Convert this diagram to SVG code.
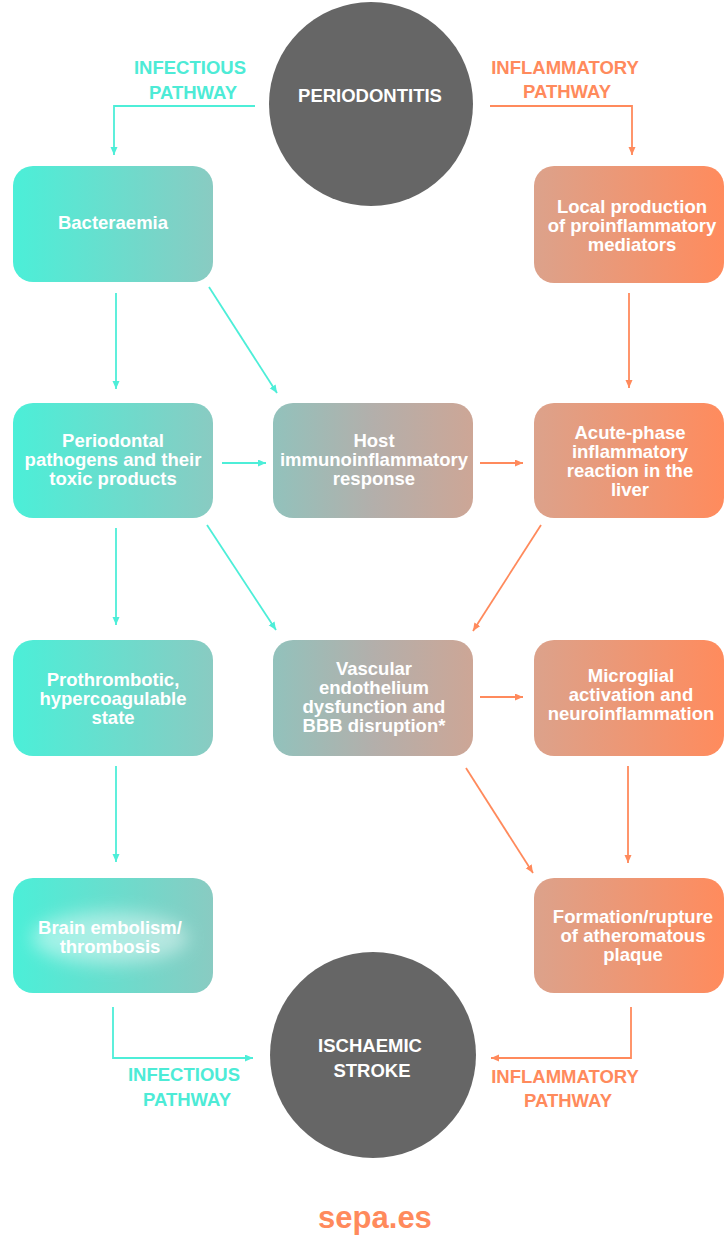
<svg xmlns="http://www.w3.org/2000/svg" width="725" height="1237" viewBox="0 0 725 1237">
<style>
.t{font-family:"Liberation Sans",Arial,sans-serif;font-weight:bold;font-size:18.5px;fill:#ffffff;text-anchor:middle}
.lt{font-family:"Liberation Sans",Arial,sans-serif;font-weight:bold;font-size:18.5px;fill:#4DEBD6;text-anchor:middle}
.lo{font-family:"Liberation Sans",Arial,sans-serif;font-weight:bold;font-size:18.5px;fill:#FF8A5C;text-anchor:middle}
.ct{fill:none;stroke:#4DEED8;stroke-width:1.8;marker-end:url(#at)}
.co{fill:none;stroke:#FF8A5C;stroke-width:1.8;marker-end:url(#ao)}
.circ{fill:#666666}
</style>
<defs>
<linearGradient id="gT" x1="0" y1="0" x2="1" y2="0">
<stop offset="0" stop-color="#4BEFD8"/><stop offset="1" stop-color="#89CBC2"/>
</linearGradient>
<linearGradient id="gM" x1="0" y1="0" x2="1" y2="0">
<stop offset="0" stop-color="#92C2BC"/><stop offset="0.5" stop-color="#B3AFAB"/><stop offset="1" stop-color="#CDA696"/>
</linearGradient>
<linearGradient id="gO" x1="0" y1="0" x2="1" y2="0">
<stop offset="0" stop-color="#DCA28B"/><stop offset="1" stop-color="#FF8B5D"/>
</linearGradient>
<filter id="blur" x="-50%" y="-50%" width="200%" height="200%"><feGaussianBlur stdDeviation="9"/></filter>
<marker id="at" markerUnits="userSpaceOnUse" markerWidth="9" markerHeight="8" refX="8" refY="3.5" orient="auto"><path d="M0,0 L8,3.5 L0,7 z" fill="#4DEED8"/></marker>
<marker id="ao" markerUnits="userSpaceOnUse" markerWidth="9" markerHeight="8" refX="8" refY="3.5" orient="auto"><path d="M0,0 L8,3.5 L0,7 z" fill="#FF8A5C"/></marker>
</defs>
<rect width="725" height="1237" fill="#ffffff"/>

<g id="connectors">
<path class="ct" d="M255,106 H114 V155"/>
<path class="co" d="M490,106 H632 V155"/>
<path class="ct" d="M116,293 V389"/>
<path class="ct" d="M209,287 L277,393"/>
<path class="co" d="M629,293 V388"/>
<path class="ct" d="M222,463 H266"/>
<path class="co" d="M480,463 H523"/>
<path class="ct" d="M116,528 V625"/>
<path class="ct" d="M207,525 L276,630"/>
<path class="co" d="M541,525 L473,631"/>
<path class="ct" d="M116,766 V862"/>
<path class="co" d="M480,697 H523"/>
<path class="co" d="M466,768 L533,873"/>
<path class="co" d="M628,766 V863"/>
<path class="ct" d="M113,1007 V1058 H253"/>
<path class="co" d="M631,1007 V1058 H491"/>
</g>

<g id="periodontitis">
<circle class="circ" cx="371" cy="104" r="102"/>
<text class="t" x="370" y="102">PERIODONTITIS</text>
</g>

<g id="label-infectious-top">
<text class="lt" x="190" y="74">INFECTIOUS</text>
<text class="lt" x="193" y="99">PATHWAY</text>
</g>
<g id="label-inflammatory-top">
<text class="lo" x="565" y="74">INFLAMMATORY</text>
<text class="lo" x="567" y="98">PATHWAY</text>
</g>

<g id="bacteraemia">
<rect x="13" y="166" width="200" height="116" rx="20" fill="url(#gT)"/>
<text class="t" x="113" y="229">Bacteraemia</text>
</g>

<g id="local-production">
<rect x="534" y="166" width="190" height="117" rx="20" fill="url(#gO)"/>
<text class="t" x="632" y="213">Local production</text>
<text class="t" x="632" y="232">of proinflammatory</text>
<text class="t" x="632" y="251">mediators</text>
</g>

<g id="periodontal-pathogens">
<rect x="13" y="403" width="200" height="115" rx="20" fill="url(#gT)"/>
<text class="t" x="113" y="447">Periodontal</text>
<text class="t" x="113" y="466">pathogens and their</text>
<text class="t" x="113" y="485">toxic products</text>
</g>

<g id="host-response">
<rect x="273" y="403" width="200" height="115" rx="20" fill="url(#gM)"/>
<text class="t" x="374" y="447">Host</text>
<text class="t" x="374" y="466">immunoinflammatory</text>
<text class="t" x="374" y="485">response</text>
</g>

<g id="acute-phase">
<rect x="534" y="403" width="190" height="115" rx="20" fill="url(#gO)"/>
<text class="t" x="630" y="439">Acute-phase</text>
<text class="t" x="630" y="458">inflammatory</text>
<text class="t" x="630" y="477">reaction in the</text>
<text class="t" x="630" y="496">liver</text>
</g>

<g id="prothrombotic">
<rect x="13" y="640" width="200" height="116" rx="20" fill="url(#gT)"/>
<text class="t" x="113" y="686">Prothrombotic,</text>
<text class="t" x="113" y="705">hypercoagulable</text>
<text class="t" x="113" y="724">state</text>
</g>

<g id="vascular">
<rect x="273" y="640" width="200" height="116" rx="20" fill="url(#gM)"/>
<text class="t" x="374" y="675">Vascular</text>
<text class="t" x="374" y="694">endothelium</text>
<text class="t" x="374" y="713">dysfunction and</text>
<text class="t" x="374" y="732">BBB disruption*</text>
</g>

<g id="microglial">
<rect x="534" y="640" width="190" height="116" rx="20" fill="url(#gO)"/>
<text class="t" x="631" y="682">Microglial</text>
<text class="t" x="631" y="701">activation and</text>
<text class="t" x="631" y="720">neuroinflammation</text>
</g>

<g id="brain-embolism">
<rect x="13" y="878" width="200" height="115" rx="20" fill="url(#gT)"/>
<ellipse cx="110" cy="938" rx="78" ry="26" fill="#ffffff" opacity="0.45" filter="url(#blur)"/>
<text class="t" x="110" y="934">Brain embolism/</text>
<text class="t" x="110" y="953">thrombosis</text>
</g>

<g id="formation-rupture">
<rect x="534" y="878" width="190" height="115" rx="20" fill="url(#gO)"/>
<text class="t" x="633" y="923">Formation/rupture</text>
<text class="t" x="633" y="942">of atheromatous</text>
<text class="t" x="633" y="961">plaque</text>
</g>

<g id="ischaemic-stroke">
<circle class="circ" cx="373" cy="1055" r="103"/>
<text class="t" x="370" y="1052">ISCHAEMIC</text>
<text class="t" x="372" y="1077">STROKE</text>
</g>

<g id="label-infectious-bottom">
<text class="lt" x="184" y="1081">INFECTIOUS</text>
<text class="lt" x="187" y="1106">PATHWAY</text>
</g>
<g id="label-inflammatory-bottom">
<text class="lo" x="565" y="1083">INFLAMMATORY</text>
<text class="lo" x="568" y="1107">PATHWAY</text>
</g>

<text x="375" y="1228" style="font-family:'Liberation Sans',Arial,sans-serif;font-weight:bold;font-size:31px;fill:#FF8A5C;text-anchor:middle">sepa.es</text>
</svg>
